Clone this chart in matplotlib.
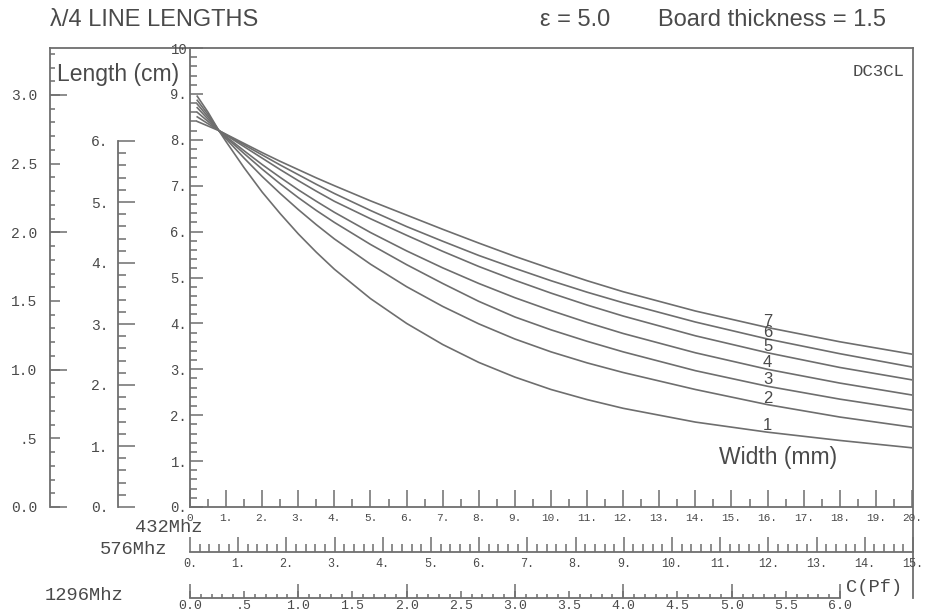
import numpy as np
import matplotlib
matplotlib.use("Agg")
import matplotlib.pyplot as plt
from matplotlib.ticker import MultipleLocator, NullFormatter

# width (mm) on the 432 MHz scale and the line length
width_mm = [0.2, 0.5, 0.8, 1, 1.5, 2, 2.5, 3, 3.5, 4, 5, 6, 7, 8, 9, 10, 11, 12, 14, 16, 18, 20]
curve_1 = [8.95, 8.60, 8.20, 7.96, 7.39, 6.86, 6.39, 5.95, 5.55, 5.18, 4.54, 4.00, 3.54, 3.15, 2.83, 2.56, 2.34, 2.15, 1.85, 1.63, 1.45, 1.29]
curve_2 = [8.86, 8.55, 8.20, 8.02, 7.60, 7.20, 6.83, 6.48, 6.15, 5.84, 5.29, 4.80, 4.37, 3.99, 3.66, 3.38, 3.14, 2.93, 2.56, 2.23, 1.96, 1.74]
curve_3 = [8.78, 8.50, 8.20, 8.05, 7.70, 7.36, 7.04, 6.74, 6.46, 6.20, 5.72, 5.28, 4.87, 4.48, 4.14, 3.86, 3.61, 3.38, 2.97, 2.63, 2.35, 2.11]
curve_4 = [8.70, 8.45, 8.20, 8.07, 7.76, 7.46, 7.18, 6.91, 6.66, 6.42, 5.98, 5.58, 5.21, 4.87, 4.56, 4.28, 4.02, 3.78, 3.36, 3.00, 2.70, 2.44]
curve_5 = [8.60, 8.40, 8.20, 8.10, 7.85, 7.60, 7.35, 7.11, 6.88, 6.66, 6.28, 5.92, 5.57, 5.24, 4.94, 4.66, 4.40, 4.16, 3.73, 3.36, 3.04, 2.77]
curve_6 = [8.50, 8.35, 8.20, 8.11, 7.89, 7.67, 7.45, 7.24, 7.03, 6.83, 6.46, 6.11, 5.79, 5.48, 5.20, 4.93, 4.68, 4.45, 4.03, 3.66, 3.34, 3.05]
curve_7 = [8.40, 8.30, 8.20, 8.12, 7.92, 7.72, 7.53, 7.35, 7.17, 7.00, 6.67, 6.36, 6.05, 5.75, 5.46, 5.19, 4.93, 4.69, 4.27, 3.91, 3.60, 3.33]
curves = [curve_1, curve_2, curve_3, curve_4, curve_5, curve_6, curve_7]
curve_names = ["1", "2", "3", "4", "5", "6", "7"]
label_at = 16

# ticks and tick labels of the scales
x432_ticks = list(range(21))
x432_labels = ["0"] + [f"{i}." for i in range(1, 21)]
y_main_ticks = list(range(11))
y_main_labels = [f"{i}." for i in range(10)] + ["10"]
cm_ticks = [0, 0.5, 1.0, 1.5, 2.0, 2.5, 3.0]
cm_labels = ["0.0", ".5", "1.0", "1.5", "2.0", "2.5", "3.0"]
scale6_ticks = list(range(7))
scale6_labels = [f"{i}." for i in range(7)]
x576_ticks = list(range(16))
x576_labels = [f"{i}." for i in range(16)]
x1296_ticks = [i * 0.5 for i in range(13)]
x1296_labels = ["0.0", ".5", "1.0", "1.5", "2.0", "2.5", "3.0", "3.5", "4.0", "4.5", "5.0", "5.5", "6.0"]

W, H = 929, 614
INK = "#4a4a4a"
LINE = "#6e6e6e"
MONO = "Liberation Mono"
SANS = "Liberation Sans"


def box(x0, y0, x1, y1):
    return [x0 / W, 1 - y1 / H, (x1 - x0) / W, (y1 - y0) / H]


def px(x, y):
    return x / W, 1 - y / H


def bare(ax):
    ax.patch.set_visible(False)
    for s in ax.spines.values():
        s.set_visible(False)
        s.set_color(LINE)
        s.set_linewidth(1.3)
    ax.tick_params(which="both", colors=LINE, labelcolor=INK, width=1.1, direction="in")
    ax.set_xticks([])
    ax.set_yticks([])


def mono(labels):
    for lab in labels:
        lab.set_family(MONO)


fig = plt.figure(figsize=(W / 100, H / 100), dpi=100)
fig.patch.set_facecolor("white")

# outer frame: top line and right border
frame = fig.add_axes(box(50, 48, 913, 598))
bare(frame)
frame.spines["top"].set_visible(True)
frame.spines["right"].set_visible(True)

# main plot
ax = fig.add_axes(box(190, 48, 912, 507))
bare(ax)
ax.spines["left"].set_visible(True)
ax.spines["bottom"].set_visible(True)
ax.set_xlim(0, 20)
ax.set_ylim(0, 10)
ax.set_xticks(x432_ticks, labels=x432_labels)
ax.xaxis.set_minor_locator(MultipleLocator(0.5))
ax.set_yticks(y_main_ticks, labels=y_main_labels)
ax.yaxis.set_minor_locator(MultipleLocator(0.2))
ax.tick_params(axis="x", which="major", length=12, pad=4, labelsize=8)
ax.tick_params(axis="x", which="minor", length=6)
ax.tick_params(axis="y", which="major", length=9.5, pad=2, labelsize=10)
ax.tick_params(axis="y", which="minor", length=5)
mono(ax.get_xticklabels() + ax.get_yticklabels())

for vals, name in zip(curves, curve_names):
    ax.plot(width_mm, vals, color=LINE, lw=1.2)
    ax.text(label_at, vals[width_mm.index(label_at)] + 0.14, name, ha="center", va="center",
            fontsize=12, family=SANS, color=INK)

ax.text(14.65, 1.07, "Width (mm)", fontsize=16.5, family=SANS, color=INK, va="center")

# length scale in cm
cm_top = (507 - 48) / ((507 - 95) / 3.0)
axc = fig.add_axes(box(50, 48, 52, 507))
bare(axc)
axc.spines["left"].set_visible(True)
axc.set_ylim(0, cm_top)
axc.set_yticks(cm_ticks, labels=cm_labels)
axc.yaxis.set_minor_locator(MultipleLocator(0.1))
axc.tick_params(axis="y", which="major", length=7, pad=9, labelsize=10.5)
axc.tick_params(axis="y", which="minor", length=3.5)
mono(axc.get_yticklabels())
axc2 = fig.add_axes(box(50, 48, 52, 507))
bare(axc2)
axc2.set_ylim(0, cm_top)
axc2.set_yticks([0, 1, 2, 3])
axc2.yaxis.set_major_formatter(NullFormatter())
axc2.tick_params(axis="y", length=12.5)

# 0 - 6 scale
ax6 = fig.add_axes(box(118, 141, 120, 507))
bare(ax6)
ax6.spines["left"].set_visible(True)
ax6.set_ylim(0, 6)
ax6.set_yticks(scale6_ticks, labels=scale6_labels)
ax6.yaxis.set_minor_locator(MultipleLocator(0.2))
ax6.tick_params(axis="y", which="major", length=12.5, pad=7, labelsize=10.5)
ax6.tick_params(axis="y", which="minor", length=6)
mono(ax6.get_yticklabels())

# 576 MHz scale
ax576 = fig.add_axes(box(190, 550, 913, 552))
bare(ax576)
ax576.spines["bottom"].set_visible(True)
ax576.set_xlim(0, 15)
ax576.set_xticks(x576_ticks, labels=x576_labels)
ax576.xaxis.set_minor_locator(MultipleLocator(0.2))
ax576.tick_params(axis="x", which="major", length=11, pad=4, labelsize=8.5)
ax576.tick_params(axis="x", which="minor", length=5.5)
mono(ax576.get_xticklabels())

# 1296 MHz scale
ax1296 = fig.add_axes(box(190, 596, 840, 598))
bare(ax1296)
ax1296.spines["bottom"].set_visible(True)
ax1296.set_xlim(0, 6)
ax1296.set_xticks(x1296_ticks, labels=x1296_labels)
ax1296.xaxis.set_minor_locator(MultipleLocator(0.1))
ax1296.tick_params(axis="x", which="major", length=5, pad=1.5, labelsize=9.5)
ax1296.tick_params(axis="x", which="minor", length=3)
mono(ax1296.get_xticklabels())
ax1296b = fig.add_axes(box(190, 596, 840, 598))
bare(ax1296b)
ax1296b.set_xlim(0, 6)
ax1296b.set_xticks(range(7))
ax1296b.xaxis.set_major_formatter(NullFormatter())
ax1296b.tick_params(axis="x", length=10)

# texts
fig.text(*px(50, 20), "λ/4 LINE LENGTHS", fontsize=17, family=SANS, color=INK, va="center")
fig.text(*px(540, 20), "ε = 5.0", fontsize=17, family=SANS, color=INK, va="center")
fig.text(*px(658, 20), "Board thickness = 1.5", fontsize=17, family=SANS, color=INK, va="center")
fig.text(*px(57, 75), "Length (cm)", fontsize=16.5, family=SANS, color=INK, va="center")
fig.text(*px(905, 72), "DC3CL", fontsize=12.5, family=MONO, color=INK, va="center", ha="right")
fig.text(*px(135, 527), "432Mhz", fontsize=13.5, family=MONO, color=INK, va="center")
fig.text(*px(100, 550), "576Mhz", fontsize=13.5, family=MONO, color=INK, va="center")
fig.text(*px(45, 595), "1296Mhz", fontsize=13.5, family=MONO, color=INK, va="center")
fig.text(*px(846, 588), "C(Pf)", fontsize=13.5, family=MONO, color=INK, va="center")

fig.savefig("out.png", dpi=100, facecolor="white")
plt.close(fig)
